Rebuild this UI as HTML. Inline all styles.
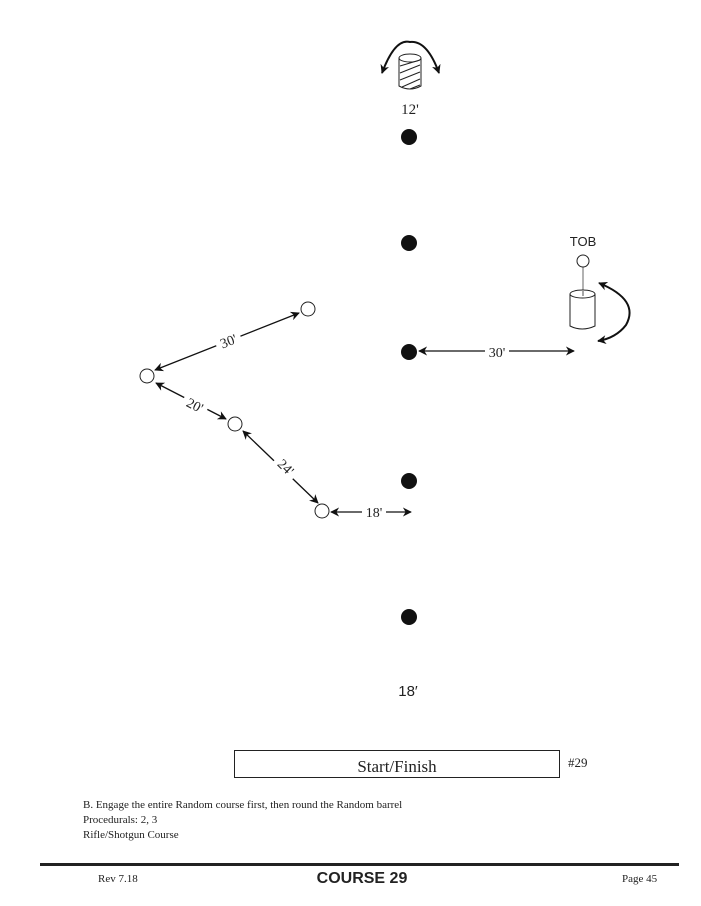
<!DOCTYPE html>
<html><head><meta charset="utf-8"><style>
html,body{margin:0;padding:0;background:#fff;}
svg{display:block;}
.s{font-family:"Liberation Serif",serif;fill:#222;}
.a{font-family:"Liberation Sans",sans-serif;fill:#222;}
</style></head><body>
<svg width="701" height="906" viewBox="0 0 701 906" xmlns="http://www.w3.org/2000/svg">
<defs>
<marker id="ah" viewBox="0 0 10 10" refX="9" refY="5" markerWidth="9" markerHeight="9" orient="auto-start-reverse" markerUnits="userSpaceOnUse">
<path d="M0,0 L10,5 L0,10 L3,5 z" fill="#111"/></marker>
</defs>
<!-- top barrel -->
<path d="M382,73 Q395,38 410,42 Q427,40 439,73" fill="none" stroke="#111" stroke-width="2" marker-start="url(#ah)" marker-end="url(#ah)"/>
<g fill="none" stroke="#222" stroke-width="1">
<ellipse cx="410" cy="58" rx="11" ry="4" fill="#fff"/>
<path d="M399,58 L399,86 Q410,92 421,86 L421,58"/>
<path d="M400,66 L420,60 M400,73 L420,65 M400,80 L420,72 M402,87 L420,79 M410,89 L420,85"/>
</g>
<text x="410" y="114" class="s" font-size="15" text-anchor="middle">12'</text>
<!-- filled dots -->
<g fill="#111">
<circle cx="409" cy="137" r="8"/><circle cx="409" cy="243" r="8"/><circle cx="409" cy="352" r="8"/>
<circle cx="409" cy="481" r="8"/><circle cx="409" cy="617" r="8"/>
</g>
<!-- TOB -->
<text x="583" y="246" class="a" font-size="13" text-anchor="middle">TOB</text>
<line x1="583" y1="267" x2="583" y2="296" stroke="#999" stroke-width="1.5"/>
<circle cx="583" cy="261" r="6" fill="#fff" stroke="#222"/>
<g fill="none" stroke="#222" stroke-width="1">
<path d="M570,294 L570,326 Q582,332 595,326 L595,294"/>
<ellipse cx="582.5" cy="294" rx="12.5" ry="4" fill="none"/>
</g>
<line x1="583" y1="290" x2="583" y2="296" stroke="#999" stroke-width="1.5"/>
<path d="M599,283 Q640,300 626,325 Q616,338 598,341" fill="none" stroke="#111" stroke-width="2" marker-start="url(#ah)" marker-end="url(#ah)"/>
<!-- 30' horizontal -->
<line x1="419" y1="351" x2="574" y2="351" stroke="#111" stroke-width="1.3" marker-start="url(#ah)" marker-end="url(#ah)"/>
<rect x="485" y="343" width="24" height="16" fill="#fff"/>
<text x="497" y="357" class="s" font-size="14" text-anchor="middle">30'</text>
<!-- open circles -->
<g fill="#fff" stroke="#222" stroke-width="1">
<circle cx="308" cy="309" r="7"/><circle cx="147" cy="376" r="7"/>
<circle cx="235" cy="424" r="7"/><circle cx="322" cy="511" r="7"/>
</g>
<g stroke="#111" stroke-width="1.3" fill="none">
<line x1="155" y1="370" x2="299" y2="313" marker-start="url(#ah)" marker-end="url(#ah)"/>
<line x1="156" y1="383" x2="226" y2="419" marker-start="url(#ah)" marker-end="url(#ah)"/>
<line x1="243" y1="431" x2="318" y2="503" marker-start="url(#ah)" marker-end="url(#ah)"/>
<line x1="331" y1="512" x2="411" y2="512" marker-start="url(#ah)" marker-end="url(#ah)"/>
</g>
<g class="s" font-size="14">
<rect x="215" y="332" width="26" height="14" fill="#fff" transform="rotate(-21 228 340)"/>
<text x="228" y="346" text-anchor="middle" transform="rotate(-21 228 340)">30'</text>
<rect x="182" y="398" width="26" height="14" fill="#fff" transform="rotate(27 195 405)"/>
<text x="195" y="410" text-anchor="middle" transform="rotate(27 195 405)">20'</text>
<rect x="273" y="460" width="26" height="14" fill="#fff" transform="rotate(44 286 467)"/>
<text x="286" y="472" text-anchor="middle" transform="rotate(44 286 467)">24'</text>
<rect x="362" y="504" width="24" height="16" fill="#fff"/>
<text x="374" y="517" text-anchor="middle">18'</text>
</g>
<text x="408" y="696" class="a" font-size="15" text-anchor="middle">18′</text>
<!-- start box -->
<rect x="234.5" y="750.5" width="325" height="27" fill="#fff" stroke="#222" stroke-width="1"/>
<text x="397" y="772" class="s" font-size="17" text-anchor="middle">Start/Finish</text>
<text x="568" y="767" class="s" font-size="13">#29</text>
<g class="s" font-size="11">
<text x="83" y="808">B. Engage the entire Random course first, then round the Random barrel</text>
<text x="83" y="823">Procedurals:  2, 3</text>
<text x="83" y="838">Rifle/Shotgun Course</text>
</g>
<rect x="40" y="863" width="639" height="3" fill="#222"/>
<text x="98" y="882" class="s" font-size="11">Rev 7.18</text>
<text x="362" y="883" class="a" font-size="16" font-weight="bold" text-anchor="middle">COURSE 29</text>
<text x="622" y="882" class="s" font-size="11">Page 45</text>
</svg>
</body></html>
